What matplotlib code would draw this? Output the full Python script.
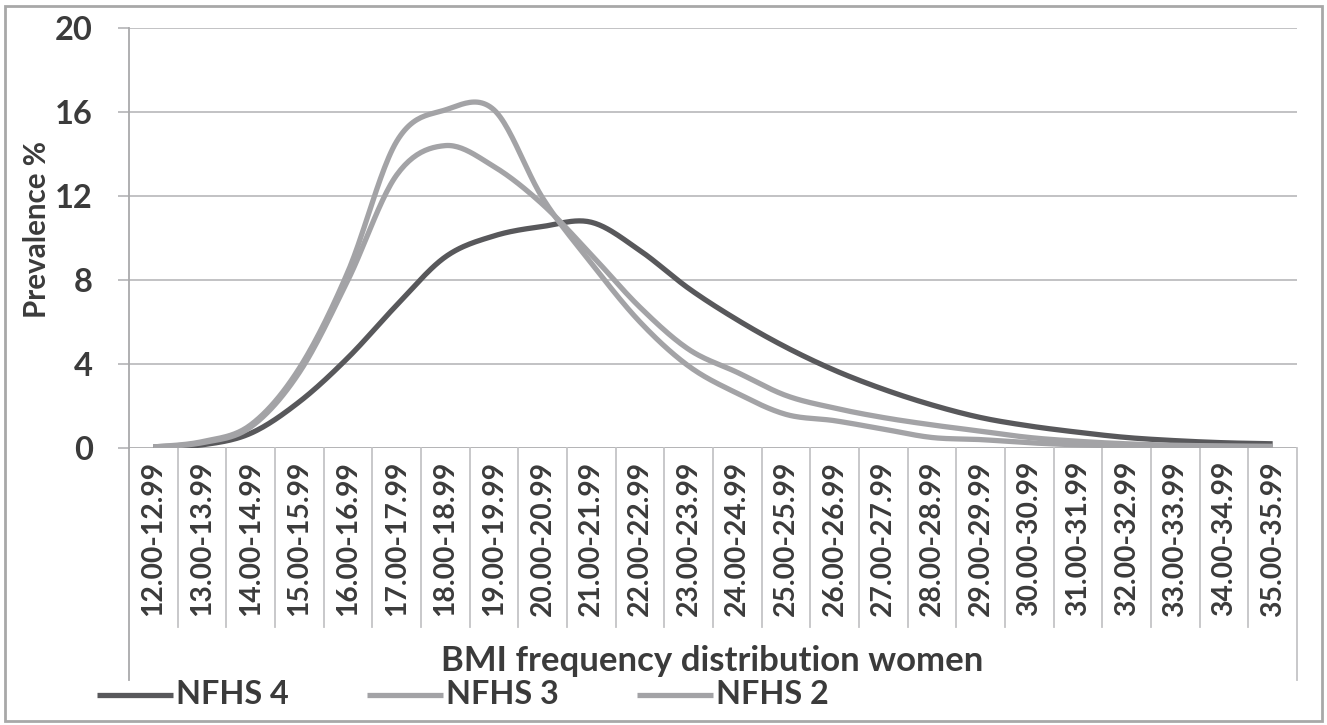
import numpy as np
import matplotlib
matplotlib.use("Agg")
import matplotlib.pyplot as plt
from matplotlib.lines import Line2D
from matplotlib.patches import Rectangle

# ---- data ----
categories = ["12.00-12.99", "13.00-13.99", "14.00-14.99", "15.00-15.99", "16.00-16.99",
              "17.00-17.99", "18.00-18.99", "19.00-19.99", "20.00-20.99", "21.00-21.99",
              "22.00-22.99", "23.00-23.99", "24.00-24.99", "25.00-25.99", "26.00-26.99",
              "27.00-27.99", "28.00-28.99", "29.00-29.99", "30.00-30.99", "31.00-31.99",
              "32.00-32.99", "33.00-33.99", "34.00-34.99", "35.00-35.99"]
nfhs4 = [0.05, 0.15, 0.7, 2.2, 4.3, 6.8, 9.1, 10.1, 10.55, 10.75, 9.4, 7.6,
         6.1, 4.8, 3.7, 2.8, 2.05, 1.45, 1.05, 0.75, 0.5, 0.35, 0.25, 0.2]
nfhs3 = [0.05, 0.25, 1.0, 3.6, 8.0, 13.0, 14.4, 13.4, 11.6, 9.2, 6.7, 4.7,
         3.6, 2.5, 1.9, 1.45, 1.1, 0.8, 0.5, 0.32, 0.2, 0.13, 0.1, 0.08]
nfhs2 = [0.05, 0.3, 1.1, 3.8, 8.4, 14.6, 16.1, 16.1, 11.9, 8.8, 6.0, 3.9,
         2.6, 1.6, 1.3, 0.9, 0.5, 0.4, 0.25, 0.15, 0.1, 0.08, 0.06, 0.05]
series_names = ["NFHS 4", "NFHS 3", "NFHS 2"]
series_values = [nfhs4, nfhs3, nfhs2]
series_colors = ["#58585b", "#a3a3a6", "#a3a3a6"]
yticks = [0, 4, 8, 12, 16, 20]
xlabel = "BMI frequency distribution women"
ylabel = "Prevalence %"

FONT = ["Lato", "DejaVu Sans"]
TXT = "#3b3b3b"
W, H = 1327, 725


def smooth(xs, ys, n=24):
    xs = np.asarray(xs, float)
    ys = np.asarray(ys, float)
    px = np.concatenate([[xs[0]], xs, [xs[-1]]])
    py = np.concatenate([[ys[0]], ys, [ys[-1]]])
    ox, oy = [], []
    t = np.linspace(0, 1, n, endpoint=False)
    for i in range(1, len(px) - 2):
        x0, x1, x2, x3 = px[i - 1:i + 3]
        y0, y1, y2, y3 = py[i - 1:i + 3]
        # Bezier control points (Excel-like smoothing)
        c1x, c1y = x1 + (x2 - x0) / 6, y1 + (y2 - y0) / 6
        c2x, c2y = x2 - (x3 - x1) / 6, y2 - (y3 - y1) / 6
        b0 = (1 - t) ** 3
        b1 = 3 * (1 - t) ** 2 * t
        b2 = 3 * (1 - t) * t ** 2
        b3 = t ** 3
        ox.append(b0 * x1 + b1 * c1x + b2 * c2x + b3 * x2)
        oy.append(b0 * y1 + b1 * c1y + b2 * c2y + b3 * y2)
    ox.append([xs[-1]])
    oy.append([ys[-1]])
    return np.concatenate(ox), np.concatenate(oy)


fig = plt.figure(figsize=(W / 100, H / 100), dpi=100)
left, right, top, bottom = 129, 1297, 28, 448
ax = fig.add_axes([left / W, 1 - bottom / H, (right - left) / W, (bottom - top) / H])

x = np.arange(len(categories))
for name, vals, col in zip(series_names, series_values, series_colors):
    sx, sy = smooth(x, vals)
    ax.plot(sx, sy, color=col, lw=3.8, solid_capstyle="butt", zorder=3 if name == "NFHS 4" else 4)

ax.set_xlim(-0.5, len(categories) - 0.5)
ax.set_ylim(0, 20)
ax.set_yticks(yticks)
ax.set_yticklabels([str(v) for v in yticks], fontfamily=FONT, fontweight="bold",
                   fontsize=23.5, color=TXT)
ax.tick_params(axis="y", length=8, width=1.2, color="#b4b4b6", pad=18)
ax.grid(axis="y", color="#bdbdbf", lw=1.3, zorder=0)
for s in ["top", "right", "bottom"]:
    ax.spines[s].set_visible(False)
ax.spines["left"].set_color("#a9a9ab")
ax.spines["left"].set_linewidth(1.3)
ax.set_xticks([])

# x category labels and separators
trans = ax.get_xaxis_transform()
lab_top = (bottom - 461) / (bottom - top)
for i, c in enumerate(categories):
    ax.text(i, lab_top, c, transform=trans, rotation=90, ha="center", va="top",
            fontfamily=FONT, fontweight="bold", fontsize=20.3, color=TXT, clip_on=False)
sep_bot = (bottom - 627) / (bottom - top)
axis_bot = (bottom - 680) / (bottom - top)
ax.axhline(0, color="#b4b4b6", lw=1.3, zorder=2)
for b in np.arange(-0.5, len(categories)):
    yb = axis_bot if b in (-0.5, len(categories) - 0.5) else sep_bot
    col = "#a9a9ab" if b == -0.5 else "#c4c4c6"
    ax.add_line(Line2D([b, b], [0, yb], transform=trans, color=col, lw=1.3, clip_on=False))

# axis titles
fig.text(712 / W, 1 - 661 / H, xlabel, ha="center", va="center", fontfamily=FONT,
         fontweight="bold", fontsize=25, color=TXT)
fig.text(37 / W, 1 - 230 / H, ylabel, ha="center", va="center", rotation=90,
         fontfamily=FONT, fontweight="bold", fontsize=21.3, color=TXT)

# legend
leg_y = 1 - 695 / H
for k, (name, col) in enumerate(zip(series_names, series_colors)):
    x0 = 97 + 270 * k
    fig.add_artist(Line2D([x0 / W, (x0 + 76) / W], [leg_y, leg_y], color=col, lw=3.8,
                          solid_capstyle="butt"))
    fig.text((x0 + 79) / W, leg_y, name, ha="left", va="center", fontfamily=FONT,
             fontweight="bold", fontsize=23.3, color=TXT)

# outer frame
fig.add_artist(Rectangle((5 / W, 4 / H), (W - 10) / W, (H - 10) / H, transform=fig.transFigure,
                         fill=False, ec="#a8a8a8", lw=2))

fig.savefig("out.png", dpi=100, facecolor="white")
